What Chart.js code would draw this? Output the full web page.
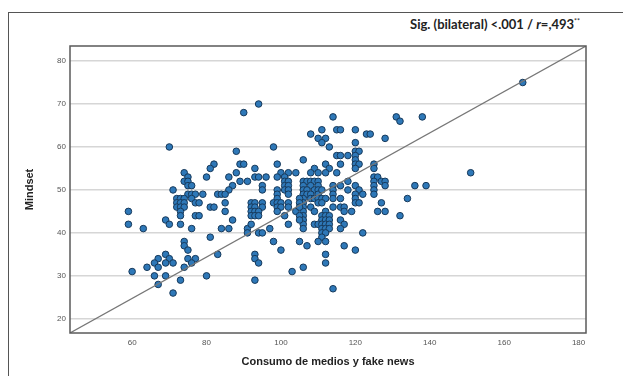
<!DOCTYPE html>
<html>
<head>
<meta charset="utf-8">
<script src="https://cdn.jsdelivr.net/npm/chart.js@4.4.1/dist/chart.umd.min.js"></script>
<style>
  html, body { margin: 0; padding: 0; background: #fff; overflow: hidden; }
  #wrap { position: relative; width: 623px; height: 376px; }
  #frame { position: absolute; left: 8px; top: 12px; width: 700px; height: 500px;
           border-left: 1.5px solid #555; border-top: 1.5px solid #555; }
  #sig { position: absolute; right: 43px; top: 16px; font: bold 13px Lato, sans-serif;
         color: #222; white-space: nowrap; }
  #sig sup { font-size: 7px; vertical-align: 5px; font-weight: normal; }
  canvas { position: absolute; left: 0; top: 0; }
</style>
</head>
<body>
<div id="wrap">
  <div id="frame"></div>
  <div id="sig">Sig. (bilateral) &lt;.001 / <i>r</i>=,493<sup>**</sup></div>
  <canvas id="scatterChart" width="623" height="376"></canvas>
</div>
<script>
// axis ranges and tick labels
const xRange = [43.3, 182.0];
const yRange = [16.7, 83.5];
const xTicks = [60, 80, 100, 120, 140, 160, 180];
const yTicks = [20, 30, 40, 50, 60, 70, 80];

// Consumo de medios y fake news (x)
const consumo = [
    // left cloud
    70, 82, 81, 74, 80, 75, 74, 75, 75, 76,
    71, 75, 76, 77, 79, 83, 72, 73, 74, 72,
    73, 74, 72, 73, 74, 73, 73, 76, 77, 78,
    81, 82, 59, 69, 77, 78, 59, 70, 73, 63,
    76, 81, 74, 74, 75, 69, 67, 70, 75, 77,
    66, 69, 71, 76, 83, 64, 67, 74, 60, 66,
    69, 80, 73, 67, 71,
    // middle, upper
    94, 90, 114, 111, 115, 108, 110, 112, 111, 98,
    113, 88, 115, 106, 89, 90, 99, 112, 93, 109,
    113, 88, 100, 102, 104, 108, 110, 112, 115, 86,
    93, 94, 96, 99, 101, 89, 91, 101, 102, 87,
    95, 101, 102,
    106, 107, 108, 109, 110, 106, 108, 110, 106, 107,
    109, 110, 106, 107, 108, 110, 106, 108, 109,
    114, 114, 114, 111, 86, 84, 85, 95, 99, 99,
    101, 102, 102, 99,
    // middle, lower
    85, 85, 87, 84, 86,
    92, 93, 95, 92, 93, 95, 92, 93, 94, 92, 93, 94,
    91, 91, 92, 94, 95, 97, 98, 100, 93, 93, 94, 93,
    98, 99, 100, 102, 99, 100, 102, 99,
    104, 101, 102,
    106, 106, 106, 106, 106, 106, 106,
    105, 105, 105, 105, 105,
    108, 109, 109,
    110, 111, 112, 110, 111, 112, 111, 112, 113, 111, 112, 113,
    110, 111, 112, 113, 111, 112, 113, 111, 112, 111, 110, 112,
    114, 114, 105, 107, 112, 112, 106, 103, 114,
    // right side
    131, 132, 138, 116, 120, 123, 124, 128, 120, 120, 121,
    116, 118, 120, 120, 120, 121, 120, 116, 125, 125,
    125, 126, 125, 127, 128, 125, 128, 125, 125,
    118, 116, 120, 121, 122, 118, 120, 120, 136, 139, 134, 116,
    116, 117, 117, 120, 121, 127, 119, 126, 128,
    132, 116, 117, 116, 122, 117, 120, 165, 151
];

// Mindset (y)
const mindset = [
    // left cloud
    60, 56, 55, 54, 53, 53, 52, 52, 51, 51,
    50, 49, 49, 49, 49, 49, 48, 48, 48, 47,
    47, 47, 46, 46, 46, 45, 44, 48, 47, 47,
    46, 46, 45, 43, 44, 44, 42, 42, 42, 41,
    41, 39, 38, 37, 36, 35, 34, 34, 34, 34,
    33, 33, 33, 33, 35, 32, 32, 32, 31, 30,
    30, 30, 29, 28, 26,
    // middle, upper
    70, 68, 67, 64, 64, 63, 62, 62, 61, 60,
    60, 59, 58, 57, 56, 56, 56, 56, 55, 55,
    55, 54, 54, 54, 54, 54, 54, 54, 54, 53,
    53, 53, 53, 53, 53, 52, 52, 52, 52, 51,
    51, 51, 51,
    52, 52, 52, 52, 52, 51, 51, 51, 50, 50,
    50, 50, 49, 49, 49, 49, 48, 48, 48,
    51, 50, 49, 50, 50, 49, 49, 50, 50, 49,
    50, 50, 49, 48,
    // middle, lower
    47, 45, 43, 41, 41,
    47, 47, 47, 46, 46, 46, 45, 45, 45, 44, 44, 44,
    41, 40, 42, 40, 40, 41, 38, 36, 35, 34, 33, 29,
    47, 47, 47, 47, 46, 46, 46, 45,
    45, 44, 42,
    47, 46, 45, 44, 43, 42, 41,
    48, 47, 46, 44, 43,
    46, 45, 42,
    48, 48, 48, 47, 47, 45, 44, 44, 44, 43, 43, 43,
    42, 42, 42, 42, 41, 41, 41, 40, 40, 39, 38, 38,
    48, 46, 38, 37, 35, 33, 32, 31, 27,
    // right side
    67, 66, 67, 64, 64, 63, 63, 62, 61, 59, 59,
    58, 58, 58, 57, 56, 56, 55, 56, 56, 55,
    53, 53, 52, 52, 52, 51, 51, 50, 49,
    52, 51, 51, 50, 49, 50, 49, 48, 51, 51, 48, 48,
    46, 46, 45, 47, 47, 47, 45, 45, 45,
    44, 43, 42, 41, 40, 37, 36, 75, 54
];

const points = consumo.map((x, i) => ({ x: x, y: mindset[i] }));
// reference line corner to corner, like SPSS
const diagonal = [{ x: xRange[0], y: yRange[0] }, { x: xRange[1], y: yRange[1] }];

const plotFrame = {
    id: 'plotFrame',
    afterDatasetsDraw(chart) {
        const a = chart.chartArea;
        const g = chart.ctx;
        g.save();
        g.strokeStyle = '#5a5a5a';
        g.lineWidth = 1.5;
        g.strokeRect(a.left, a.top, a.right - a.left, a.bottom - a.top);
        g.restore();
    }
};

const ctx = document.getElementById('scatterChart').getContext('2d');
new Chart(ctx, {
    type: 'scatter',
    data: {
        datasets: [{
            type: 'line',
            data: diagonal,
            borderColor: '#777',
            borderWidth: 1.2,
            pointRadius: 0,
            order: 0
        }, {
            data: points,
            backgroundColor: '#2e78b8',
            borderColor: '#17395a',
            borderWidth: 1,
            pointRadius: 3.3,
            order: 1
        }]
    },
    options: {
        responsive: false,
        animation: false,
        devicePixelRatio: 1,
        layout: { padding: { top: 46, right: 37, left: 0, bottom: 0 } },
        plugins: { legend: { display: false }, tooltip: { enabled: false } },
        scales: {
            x: {
                type: 'linear',
                min: xRange[0],
                max: xRange[1],
                afterBuildTicks: s => { s.ticks = xTicks.map(v => ({ value: v })); },
                afterFit: s => { s.height = 43; },
                grid: { display: false, drawTicks: false },
                border: { display: false },
                ticks: { padding: 5, color: '#555', font: { size: 8, family: 'Liberation Sans' } },
                title: {
                    display: true,
                    text: 'Consumo de medios y fake news',
                    color: '#222',
                    font: { size: 11, weight: 'bold', family: 'Liberation Sans' },
                    padding: { top: 0, bottom: 7.4 }
                }
            },
            y: {
                min: yRange[0],
                max: yRange[1],
                afterBuildTicks: s => { s.ticks = yTicks.map(v => ({ value: v })); },
                afterFit: s => { s.width = 70; },
                grid: { color: '#d6d6d6', lineWidth: 1.4, drawTicks: false },
                border: { display: false },
                ticks: { padding: 4, color: '#555', font: { size: 8, family: 'Liberation Sans' } },
                title: {
                    display: true,
                    text: 'Mindset',
                    color: '#222',
                    font: { size: 11, weight: 'bold', family: 'Liberation Sans' },
                    padding: { top: 23.4, bottom: 0 }
                }
            }
        }
    },
    plugins: [plotFrame]
});
</script>
</body>
</html>
